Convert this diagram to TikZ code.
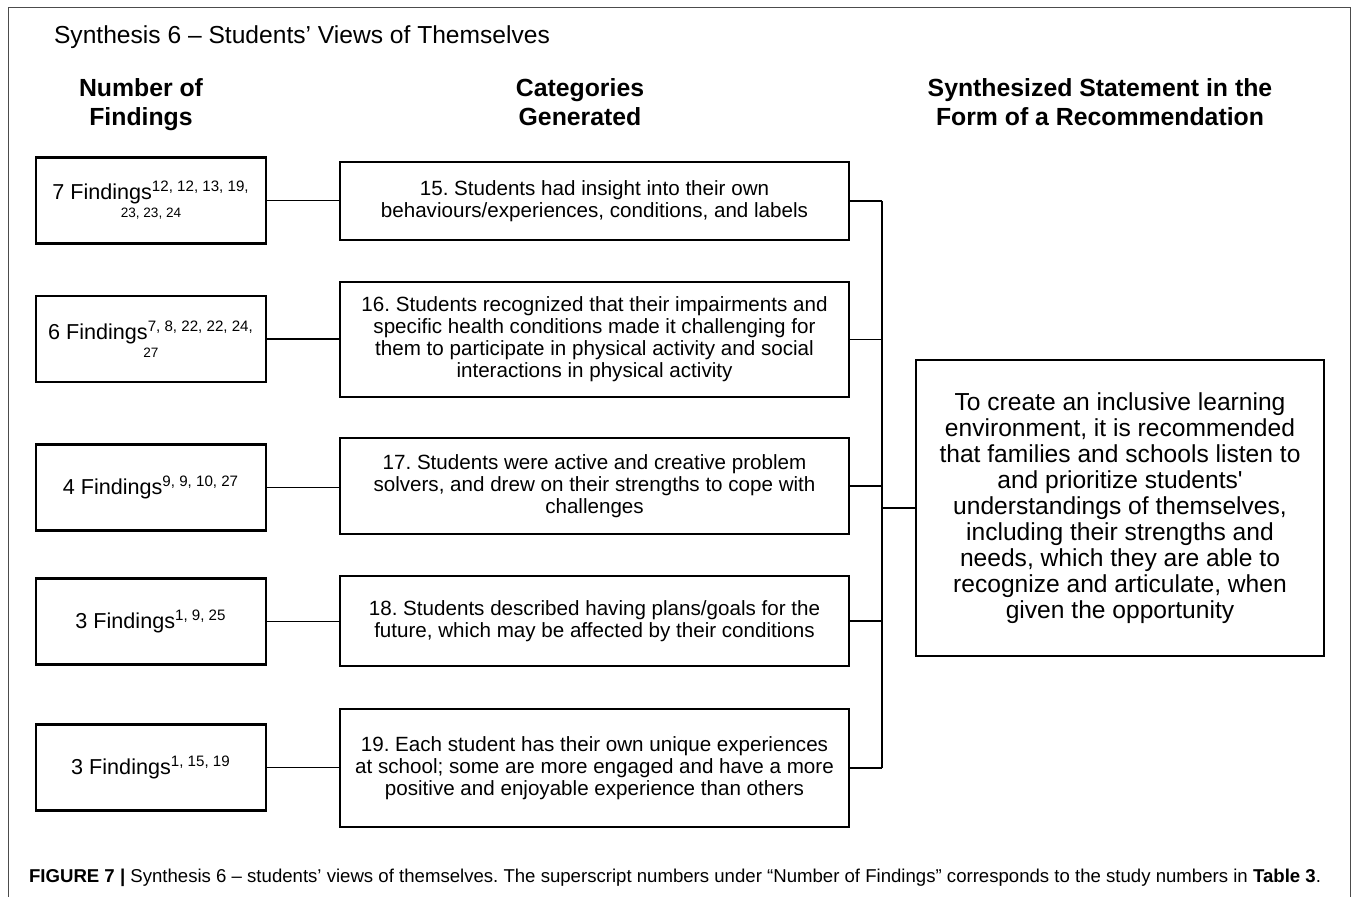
\documentclass[tikz,border=0pt]{standalone}
\usepackage{fontspec}
\setmainfont{Liberation Sans}
\usetikzlibrary{positioning}
\frenchspacing

\begin{document}
\begin{tikzpicture}[
  x=0.5pt, y=-0.5pt,
  finding/.style={
    draw,
    line width=1.4pt,
    minimum width=115pt,
    minimum height=43pt,
    align=center,
    inner sep=0pt,
    font=\fontsize{10.8}{10.5}\selectfont
  },
  category/.style={
    draw,
    line width=1.4pt,
    minimum width=254.5pt,
    align=center,
    inner sep=0pt,
    font=\fontsize{10.3}{11}\selectfont
  },
  synth/.style={
    draw,
    line width=1.4pt,
    minimum width=204pt,
    minimum height=148pt,
    align=center,
    inner sep=0pt,
    font=\fontsize{12.3}{13}\selectfont
  },
  header/.style={align=center, anchor=base, font=\bfseries\fontsize{12.4}{14.5}\selectfont},
  link/.style={line width=0.9pt}
]
\useasboundingbox (0,0) rectangle (1357,897);

% frame
\draw[line width=0.5pt, black!70] (8,897) -- (8,8) -- (1350,8) -- (1350,897);

\node[anchor=west, font=\fontsize{12.3}{14}\selectfont] (title) at (47,37) {Synthesis 6 -- Students' Views of Themselves};

\node[header] (hfind) at (141,126) {Number of\\Findings};
\node[header] (hcat) at (580,126) {Categories\\Generated};
\node[header] (hsyn) at (1100,126) {Synthesized Statement in the\\Form of a Recommendation};

% number of findings
\newcommand{\smallrefs}[1]{{\fontsize{6.8}{7}\selectfont #1}}
\node[finding] (f1) at (151,200.5) {7 Findings\textsuperscript{12, 12, 13, 19,}\\[-1.5pt]\smallrefs{23, 23, 24}};
\node[finding] (f2) at (151,339) {6 Findings\textsuperscript{7, 8, 22, 22, 24,}\\[-1.5pt]\smallrefs{27}};
\node[finding] (f3) at (151,487.5) {4 Findings\textsuperscript{9, 9, 10, 27}};
\node[finding] (f4) at (151,621.5) {3 Findings\textsuperscript{1, 9, 25}};
\node[finding] (f5) at (151,767.5) {3 Findings\textsuperscript{1, 15, 19}};

% categories
\node[category, minimum height=39pt] (c1) at (594.5,201) {15. Students had insight into their own\\behaviours/experiences, conditions, and labels};
\node[category, minimum height=57.5pt] (c2) at (594.5,339.5) {16. Students recognized that their impairments and\\specific health conditions made it challenging for\\them to participate in physical activity and social\\interactions in physical activity};
\node[category, minimum height=48pt] (c3) at (594.5,486) {17. Students were active and creative problem\\solvers, and drew on their strengths to cope with\\challenges};
\node[category, minimum height=45pt] (c4) at (594.5,621) {18. Students described having plans/goals for the\\future, which may be affected by their conditions};
\node[category, minimum height=59pt] (c5) at (594.5,768) {19. Each student has their own unique experiences\\at school; some are more engaged and have a more\\positive and enjoyable experience than others};

% recommendation
\node[synth] (rec) at (1120,508) {To create an inclusive learning\\environment, it is recommended\\that families and schools listen to\\and prioritize students\textquotesingle\\understandings of themselves,\\including their strengths and\\needs, which they are able to\\recognize and articulate, when\\given the opportunity};

\coordinate (bus) at (882,508);

\foreach \i in {1,...,5} {
  \draw[link] (f\i.east) -- (f\i.east -| c\i.west);
  \draw[link] (c\i.east) -- (c\i.east -| bus);
}
\draw[link] (c1.east -| bus) -- (c5.east -| bus);
\draw[link] (bus) -- (rec.west);

\node[anchor=west, font=\fontsize{9.3}{10}\selectfont] (caption) at (22,878) {\textbf{FIGURE 7 |} Synthesis 6 -- students' views of themselves. The superscript numbers under “Number of Findings” corresponds to the study numbers in \textbf{Table 3}.};

\end{tikzpicture}
\end{document}
